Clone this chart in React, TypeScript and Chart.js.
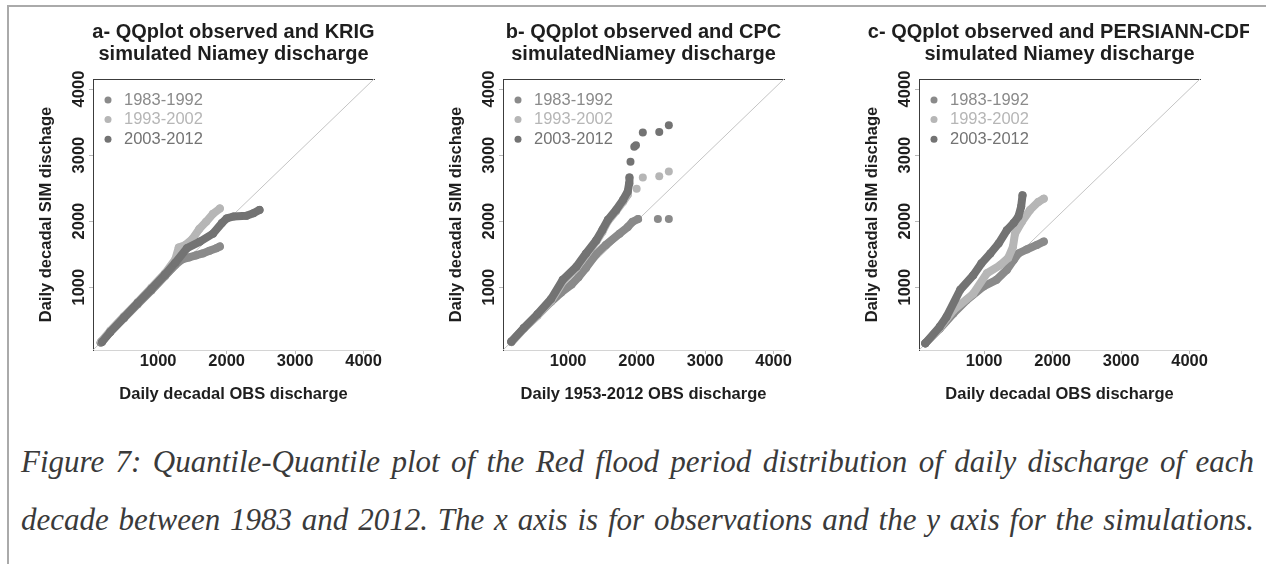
import React, { useEffect, useRef } from 'react';
import { Chart, registerables } from 'chart.js';

Chart.register(...registerables);

// ---------- data ----------
const AXIS_MIN = 48;
const AXIS_MAX = 4152;
const TICKS = [1000, 2000, 3000, 4000];
const SERIES_LABELS = ['1983-1992', '1993-2002', '2003-2012'];
const SERIES_COLORS = ['#8a8a8a', '#b6b6b6', '#737373'];
const REF_LINE = [[AXIS_MIN, AXIS_MIN], [AXIS_MAX, AXIS_MAX]];

// Panel a - KRIG (dense quantile bands)
const KRIG_8392 = [[160, 160], [300, 320], [500, 530], [700, 740], [900, 950], [1100, 1170], [1250, 1340], [1350, 1420], [1450, 1450], [1550, 1480], [1650, 1510], [1750, 1550], [1850, 1590], [1900, 1615]];
const KRIG_9302 = [[170, 180], [300, 340], [500, 560], [700, 770], [900, 990], [1100, 1210], [1250, 1420], [1300, 1600], [1400, 1640], [1500, 1730], [1600, 1880], [1700, 1990], [1800, 2110], [1900, 2190]];
const KRIG_0312 = [[180, 170], [300, 320], [500, 540], [700, 760], [900, 970], [1100, 1190], [1250, 1370], [1420, 1590], [1610, 1690], [1800, 1810], [1930, 1970], [2000, 2040], [2100, 2070], [2290, 2080], [2390, 2120], [2480, 2170]];

// Panel b - CPC (dense bands + isolated upper quantiles)
const CPC_8392 = [[170, 170], [350, 370], [550, 570], [750, 780], [900, 920], [1050, 1040], [1150, 1150], [1260, 1290], [1410, 1500], [1550, 1640], [1750, 1810], [1870, 1910], [1940, 1990], [2020, 2030]];
const CPC_8392_TAIL = [[2310, 2030], [2470, 2030]];
const CPC_9302 = [[170, 175], [350, 370], [550, 570], [750, 790], [920, 1080], [1120, 1290], [1260, 1490], [1410, 1690], [1500, 1840], [1580, 2000], [1700, 2150], [1800, 2290], [1870, 2400]];
const CPC_9302_TAIL = [[2000, 2490], [2090, 2660], [2330, 2680], [2470, 2750]];
const CPC_0312 = [[170, 175], [350, 380], [550, 590], [750, 820], [920, 1110], [1120, 1310], [1260, 1510], [1410, 1710], [1500, 1870], [1580, 2020], [1700, 2170], [1800, 2320], [1870, 2450], [1890, 2570], [1895, 2660]];
const CPC_0312_TAIL = [[1910, 2900], [1965, 3125], [1990, 3150], [2090, 3340], [2330, 3350], [2470, 3450]];

// Panel c - PERSIANN-CDF
const PERS_8392 = [[140, 150], [350, 370], [550, 600], [740, 800], [990, 1010], [1180, 1110], [1330, 1260], [1430, 1410], [1500, 1510], [1620, 1570], [1770, 1640], [1870, 1690]];
const PERS_9302 = [[140, 150], [350, 380], [550, 650], [840, 900], [1040, 1210], [1230, 1330], [1350, 1440], [1420, 1610], [1450, 1810], [1550, 1990], [1670, 2170], [1790, 2290], [1870, 2340]];
const PERS_0312 = [[140, 150], [350, 400], [450, 550], [650, 960], [840, 1180], [960, 1360], [1090, 1510], [1210, 1660], [1330, 1860], [1430, 1970], [1500, 2070], [1540, 2220], [1560, 2390]];

const TITLES_A = ['a- QQplot observed and KRIG', 'simulated Niamey discharge'];
const TITLES_B = ['b- QQplot observed and CPC', 'simulatedNiamey discharge'];
const TITLES_C = ['c- QQplot observed and PERSIANN-CDF', 'simulated Niamey discharge'];
const X_TITLES = ['Daily decadal OBS discharge', 'Daily 1953-2012 OBS discharge', 'Daily decadal OBS discharge'];
const Y_TITLE = 'Daily decadal SIM dischage';

const CAPTION_1 = 'Figure 7: Quantile-Quantile plot of the Red flood period distribution of daily discharge of each';
const CAPTION_2 = 'decade between 1983 and 2012. The x axis is for observations and the y axis for the simulations.';

// ---------- layout ----------
const FONT = "'Liberation Sans', Arial, Helvetica, sans-serif";
const Y_AXIS_W = 83;
const PLOT_W = 281;
const CANVAS_W = Y_AXIS_W * 2 + PLOT_W;
const CANVAS_H = 410;
const X_AXIS_H = 60;
const TEXT_DARK = '#1e1e1e';

const PANELS = [
  { title: TITLES_A, xTitle: X_TITLES[0], series: [KRIG_8392, KRIG_9302, KRIG_0312], tails: [[], [], []], left: 10, clip: CANVAS_W },
  { title: TITLES_B, xTitle: X_TITLES[1], series: [CPC_8392, CPC_9302, CPC_0312], tails: [CPC_8392_TAIL, CPC_9302_TAIL, CPC_0312_TAIL], left: 420, clip: CANVAS_W },
  { title: TITLES_C, xTitle: X_TITLES[2], series: [PERS_8392, PERS_9302, PERS_0312], tails: [[], [], []], left: 836, clip: 1249 - 836 },
];

const seriesLegend = {
  id: 'seriesLegend',
  afterDatasetsDraw(chart: any) {
    const { ctx, chartArea } = chart;
    ctx.save();
    ctx.font = `16.5px ${FONT}`;
    ctx.textBaseline = 'middle';
    ctx.textAlign = 'left';
    chart.data.datasets.slice(0, 3).forEach((ds: any, i: number) => {
      const y = chartArea.top + 21 + i * 19.6;
      ctx.fillStyle = ds.borderColor;
      ctx.beginPath();
      ctx.arc(chartArea.left + 15, y, 3.5, 0, Math.PI * 2);
      ctx.fill();
      ctx.fillText(ds.label, chartArea.left + 31, y);
    });
    ctx.restore();
  },
};

function makeConfig(p: any): any {
  const toPts = (arr: number[][]) => arr.map(([x, y]) => ({ x, y }));
  const drawOrder = [2, 1, 0];
  const datasets: any[] = p.series.map((s: number[][], i: number) => ({
    label: SERIES_LABELS[i],
    data: toPts(s),
    showLine: true,
    borderColor: SERIES_COLORS[i],
    backgroundColor: SERIES_COLORS[i],
    pointBackgroundColor: SERIES_COLORS[i],
    borderWidth: 8,
    pointRadius: 4,
    pointBorderWidth: 0,
    borderCapStyle: 'round',
    borderJoinStyle: 'round',
    tension: 0,
    order: drawOrder[i],
  }));
  p.tails.forEach((t: number[][], i: number) => {
    if (!t.length) return;
    datasets.push({
      label: SERIES_LABELS[i] + ' (upper quantiles)',
      data: toPts(t),
      showLine: false,
      borderColor: SERIES_COLORS[i],
      backgroundColor: SERIES_COLORS[i],
      pointBackgroundColor: SERIES_COLORS[i],
      pointRadius: 4,
      pointBorderWidth: 0,
      order: drawOrder[i],
    });
  });
  datasets.push({
    label: 'y = x',
    data: toPts(REF_LINE),
    showLine: true,
    borderColor: '#c4c4c4',
    borderWidth: 1,
    pointRadius: 0,
    order: 10,
  });

  const tickFont = { family: FONT, size: 16.5, weight: 'bold' };
  const setTicks = (s: any) => {
    s.ticks = TICKS.map((v) => ({ value: v }));
  };
  const plain = (v: any) => String(v);

  return {
    type: 'scatter',
    data: { datasets },
    plugins: [seriesLegend],
    options: {
      responsive: false,
      animation: false,
      events: [],
      layout: { padding: 0 },
      plugins: {
        legend: { display: false },
        tooltip: { enabled: false },
        title: {
          display: true,
          text: p.title,
          color: TEXT_DARK,
          fullSize: true,
          font: { family: FONT, size: 20, weight: 'bold', lineHeight: 1.125 },
          padding: { top: 21, bottom: 13 },
        },
      },
      scales: {
        x: {
          type: 'linear',
          position: 'bottom',
          min: AXIS_MIN,
          max: AXIS_MAX,
          afterBuildTicks: setTicks,
          afterFit: (s: any) => {
            s.height = X_AXIS_H;
          },
          grid: { display: true, drawOnChartArea: false, drawTicks: true, tickLength: 4, color: '#b8b8b8' },
          border: { display: true, color: '#d4d4d4', width: 1 },
          ticks: { color: TEXT_DARK, font: tickFont, padding: -2, maxRotation: 0, autoSkip: false, callback: plain },
          title: {
            display: true,
            text: p.xTitle,
            color: TEXT_DARK,
            font: { family: FONT, size: 16.5, weight: 'bold' },
            padding: { top: 0, bottom: 6 },
          },
        },
        y: {
          type: 'linear',
          position: 'left',
          min: AXIS_MIN,
          max: AXIS_MAX,
          afterBuildTicks: setTicks,
          afterFit: (s: any) => {
            s.width = Y_AXIS_W;
          },
          grid: { display: true, drawOnChartArea: false, drawTicks: true, tickLength: 4, color: '#b8b8b8' },
          border: { display: true, color: '#3c3c3c', width: 1 },
          ticks: {
            color: TEXT_DARK,
            font: tickFont,
            minRotation: 90,
            maxRotation: 90,
            crossAlign: 'center',
            padding: -9.3,
            autoSkip: false,
            callback: plain,
          },
          title: {
            display: true,
            text: Y_TITLE,
            color: TEXT_DARK,
            font: { family: FONT, size: 16.5, weight: 'bold' },
            padding: { top: 26.6, bottom: 0 },
          },
        },
        xTop: {
          type: 'linear',
          position: 'top',
          min: AXIS_MIN,
          max: AXIS_MAX,
          afterFit: (s: any) => {
            s.height = 0;
          },
          grid: { display: false, drawTicks: false },
          border: { display: true, color: '#3c3c3c', width: 1 },
          ticks: { display: false },
        },
        yRight: {
          type: 'linear',
          position: 'right',
          min: AXIS_MIN,
          max: AXIS_MAX,
          afterFit: (s: any) => {
            s.width = Y_AXIS_W;
          },
          grid: { display: false, drawTicks: false },
          border: { display: false },
          ticks: { display: false },
        },
      },
    },
  };
}

function Panel({ p }: { p: any }) {
  const ref = useRef<HTMLCanvasElement | null>(null);
  useEffect(() => {
    if (!ref.current) return;
    const chart = new Chart(ref.current, makeConfig(p));
    return () => chart.destroy();
  }, [p]);
  return (
    <div
      style={{
        position: 'absolute',
        left: p.left,
        top: 0,
        width: p.clip,
        height: CANVAS_H,
        overflow: 'hidden',
      }}
    >
      <canvas ref={ref} width={CANVAS_W} height={CANVAS_H} style={{ display: 'block', width: CANVAS_W, height: CANVAS_H }} />
    </div>
  );
}

export default function App() {
  useEffect(() => {
    document.body.style.margin = '0';
  }, []);
  const captionStyle: React.CSSProperties = {
    position: 'absolute',
    left: 21,
    width: 1233,
    fontFamily: "'Liberation Serif', 'Times New Roman', Times, serif",
    fontStyle: 'italic',
    fontSize: 31,
    lineHeight: '31px',
    color: '#3a3a3a',
    textAlign: 'justify',
    textAlignLast: 'justify' as any,
    whiteSpace: 'nowrap',
  };
  return (
    <div
      style={{
        position: 'absolute',
        left: 0,
        top: 0,
        width: 1266,
        height: 564,
        background: '#ffffff',
        overflow: 'hidden',
      }}
    >
      <div style={{ position: 'absolute', left: 7, top: 5, width: 1259, height: 2, background: '#aaaaaa' }} />
      <div style={{ position: 'absolute', left: 7, top: 5, width: 2, height: 559, background: '#aaaaaa' }} />
      {PANELS.map((p, i) => (
        <Panel key={i} p={p} />
      ))}
      <div style={{ ...captionStyle, top: 446 }}>{CAPTION_1}</div>
      <div style={{ ...captionStyle, top: 504 }}>{CAPTION_2}</div>
    </div>
  );
}
